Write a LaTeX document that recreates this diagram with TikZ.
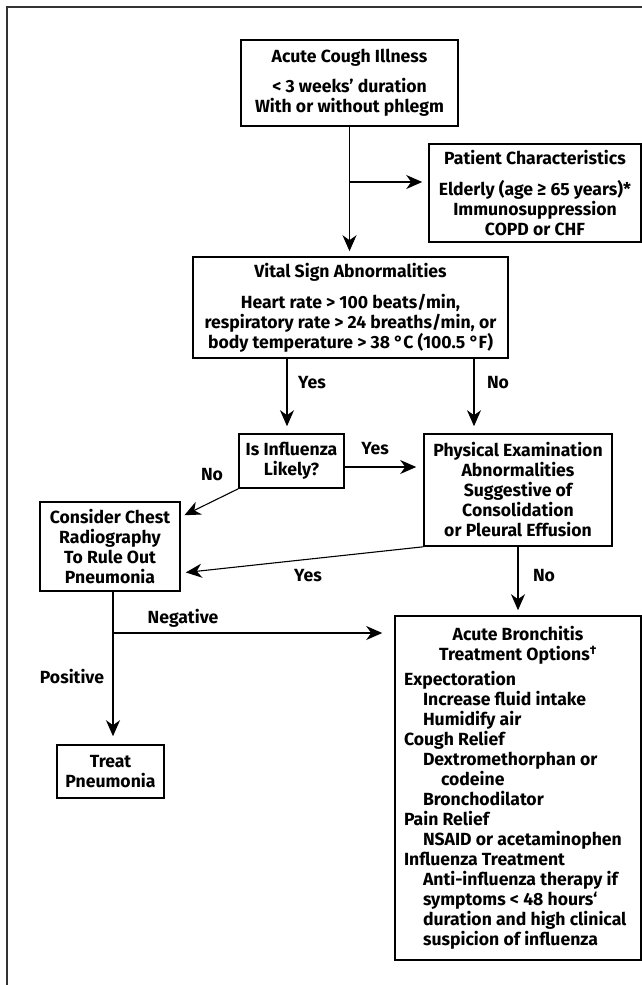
\documentclass[tikz,border=0pt]{standalone}
\usepackage{fontspec}
\setmainfont{Fira Sans}
\usetikzlibrary{arrows.meta,calc}
\begin{document}
\begin{tikzpicture}[x=1pt,y=-1pt,
  font=\bfseries\fontsize{17.6}{20}\selectfont,
  box/.style={draw, line width=1.6pt, align=center, inner sep=0pt},
  conn/.style={line width=1.1pt, -{Stealth[length=16pt,width=14pt,inset=5pt]}},
  lbl/.style={inner sep=0pt}]
\clip (0,0) rectangle (642,985);
\fill[white] (0,0) rectangle (642,985);
\draw[line width=1.7pt, black!80] (7,7) rectangle (800,1200);

\node[box, minimum width=217pt, minimum height=86pt] (b1) at (349.5,83)
  {Acute Cough Illness\\[10pt] < 3 weeks’ duration\\ With or without phlegm};
\node[box, minimum width=212pt, minimum height=98pt] (b2) at (535,193)
  {Patient Characteristics\\[11pt] Elderly (age ≥ 65 years)*\\ Immunosuppression\\ COPD or CHF};
\node[box, minimum width=315pt, minimum height=101pt] (b3) at (350.5,307.5)
  {Vital Sign Abnormalities\\[11pt] Heart rate > 100 beats/min,\\ respiratory rate > 24 breaths/min, or\\ body temperature > 38 °C (100.5 °F)};
\node[box, minimum width=105pt, minimum height=54pt] (b4) at (291.5,461)
  {Is Influenza\\ Likely?};
\node[box, minimum width=188pt, minimum height=112pt] (b5) at (518,490)
  {Physical Examination\\ Abnormalities\\ Suggestive of\\ Consolidation\\ or Pleural Effusion};
\node[box, minimum width=140pt, minimum height=89pt] (b6) at (110,546.5)
  {Consider Chest\\ Radiography\\ To Rule Out\\ Pneumonia};
\node[box, minimum width=246pt, minimum height=344pt, align=left] (b7) at (518,788)
  {\makebox[228pt]{Acute Bronchitis}\\
   \makebox[228pt]{Treatment Options\textsuperscript{†}}\\[5pt]
   Expectoration\\
   \hspace*{19pt}Increase fluid intake\\
   \hspace*{19pt}Humidify air\\
   Cough Relief\\
   \hspace*{19pt}Dextromethorphan or\\
   \hspace*{37pt}codeine\\
   \hspace*{19pt}Bronchodilator\\
   Pain Relief\\
   \hspace*{19pt}NSAID or acetaminophen\\
   Influenza Treatment\\
   \hspace*{19pt}Anti-influenza therapy if\\
   \hspace*{19pt}symptoms < 48 hours‘\\
   \hspace*{19pt}duration and high clinical\\
   \hspace*{19pt}suspicion of influenza};
\node[box, minimum width=107pt, minimum height=53pt] (b8) at (110.5,771.5)
  {Treat\\ Pneumonia};

\node[lbl] (l1) at (312,383) {Yes};
\node[lbl] (l2) at (498,383) {No};
\node[lbl] (l3) at (375,449) {Yes};
\node[lbl] (l4) at (212,475) {No};
\node[lbl] (l5) at (308,576) {Yes};
\node[lbl] (l6) at (544,576) {No};
\node[lbl] (l7) at (183,618) {Negative};
\node[lbl] (l8) at (72,677) {Positive};

\draw[conn, shorten >=5pt] (b1.south) -- (b1.south |- b3.north);
\coordinate (j1) at (b1.south |- 0,182);
\draw[conn, shorten >=6pt] (j1) -- (j1 -| b2.west);
\draw[conn, shorten >=7pt] (287,0 |- b3.south) -- (287,0 |- b4.north);
\draw[conn, shorten >=7pt] (474,0 |- b3.south) -- (474,0 |- b5.north);
\draw[conn, shorten >=7pt] (b4.east |- 0,467) -- (b5.west |- 0,467);
\draw[conn, shorten >=4pt] (b4.south west) -- (b6.east |- 0,517);
\draw[conn, shorten >=5pt] (b5.south west) -- (b6.east |- 0,573);
\draw[conn, shorten >=5pt] (b5.south) -- (b5.south |- b7.north);
\draw[conn, shorten >=8pt] (113,0 |- b6.south) -- (113,0 |- b8.north);
\coordinate (j2) at (113,633);
\draw[conn, shorten >=12pt] (j2) -- (j2 -| b7.west);
\end{tikzpicture}
\end{document}
